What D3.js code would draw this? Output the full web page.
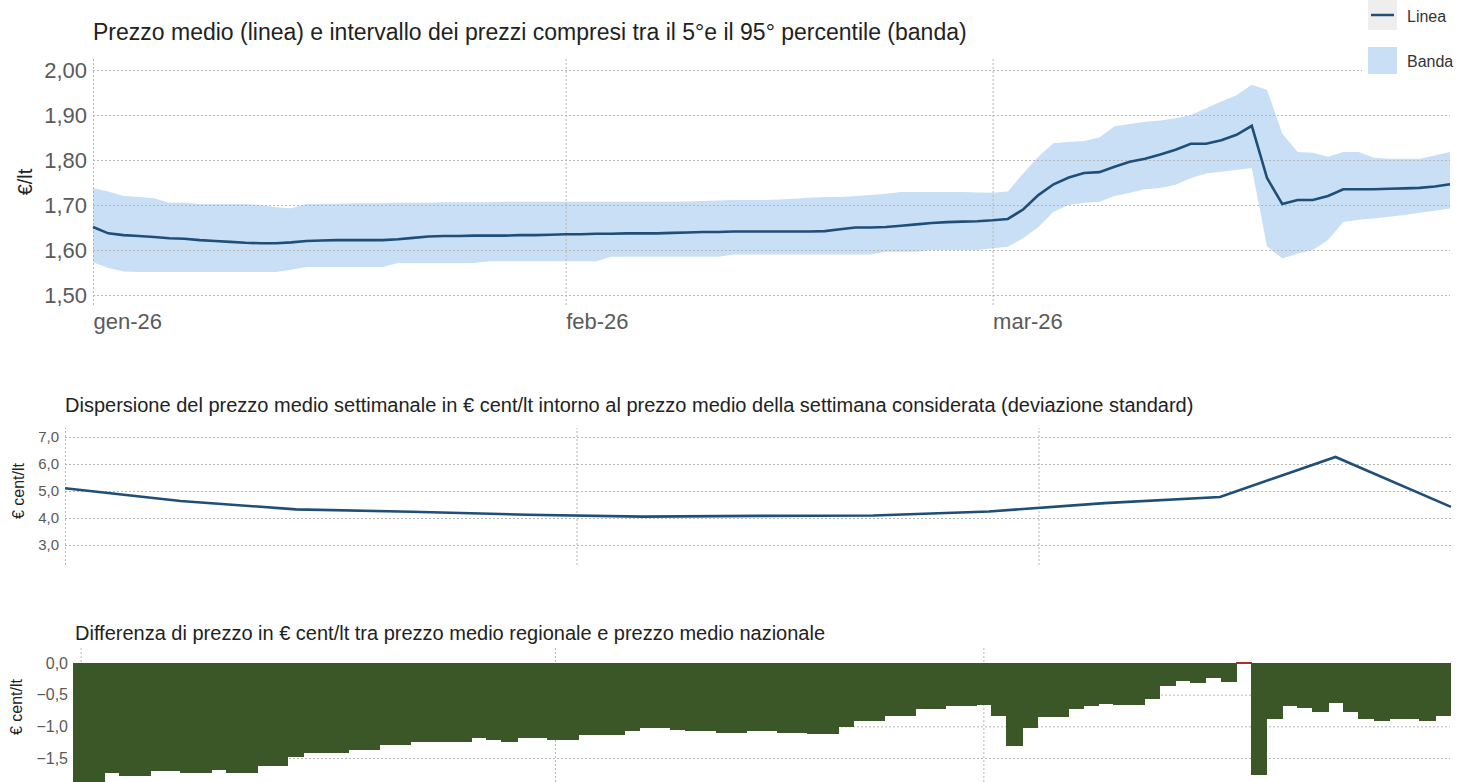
<!DOCTYPE html>
<html>
<head>
<meta charset="utf-8">
<script src="https://cdn.jsdelivr.net/npm/d3@7"></script>
<style>
  body { margin: 0; background: #fff; }
  svg { display: block; font-family: "Liberation Sans", Arial, sans-serif; }
  .grid line { stroke: #b5b5b5; stroke-dasharray: 2,2; }
  .grid .domain { display: none; }
  .tick-lbl text { fill: #5a5a5a; }
  .tick-lbl .domain, .tick-lbl line { display: none; }
</style>
</head>
<body>
<svg id="chart" width="1457" height="782"></svg>
<script>
// data
const monthLabels = ["gen-26", "feb-26", "mar-26"];
const monthStarts = ["2026-01-01", "2026-02-01", "2026-03-01"];

// top: daily average price and 5th-95th percentile band, 1 Jan - 31 Mar
const avgPrice = [
  1.651, 1.637, 1.633, 1.631, 1.629, 1.626, 1.625, 1.622, 1.620, 1.618,
  1.616, 1.615, 1.615, 1.617, 1.620, 1.621, 1.622, 1.622, 1.622, 1.622,
  1.624, 1.627, 1.630, 1.631, 1.631, 1.632, 1.632, 1.632, 1.633, 1.633,
  1.634, 1.635, 1.635, 1.636, 1.636, 1.637, 1.637, 1.637, 1.638, 1.639,
  1.640, 1.640, 1.641, 1.641, 1.641, 1.641, 1.641, 1.641, 1.642, 1.646,
  1.650, 1.650, 1.651, 1.654, 1.657, 1.660, 1.662, 1.663, 1.664, 1.666,
  1.669, 1.690, 1.722, 1.746, 1.761, 1.771, 1.773, 1.785, 1.796, 1.803,
  1.812, 1.823, 1.836, 1.836, 1.844, 1.856, 1.876, 1.760, 1.702, 1.711,
  1.711, 1.720, 1.735, 1.735, 1.735, 1.736, 1.737, 1.738, 1.741, 1.746
];
const bandHigh = [
  1.738, 1.730, 1.720, 1.718, 1.715, 1.705, 1.705, 1.702, 1.702, 1.702,
  1.702, 1.700, 1.695, 1.693, 1.702, 1.703, 1.703, 1.704, 1.704, 1.704,
  1.705, 1.705, 1.705, 1.706, 1.706, 1.706, 1.706, 1.707, 1.707, 1.707,
  1.707, 1.707, 1.707, 1.707, 1.707, 1.707, 1.707, 1.707, 1.707, 1.708,
  1.709, 1.710, 1.711, 1.711, 1.711, 1.712, 1.714, 1.716, 1.718, 1.718,
  1.720, 1.722, 1.725, 1.729, 1.729, 1.729, 1.729, 1.729, 1.728, 1.727,
  1.730, 1.770, 1.807, 1.838, 1.840, 1.842, 1.850, 1.875, 1.880, 1.885,
  1.888, 1.893, 1.900, 1.915, 1.930, 1.944, 1.967, 1.956, 1.859, 1.818,
  1.816, 1.807, 1.818, 1.818, 1.805, 1.803, 1.803, 1.803, 1.810, 1.818
];
const bandLow = [
  1.573, 1.560, 1.552, 1.551, 1.551, 1.551, 1.551, 1.551, 1.551, 1.551,
  1.551, 1.551, 1.551, 1.556, 1.562, 1.562, 1.562, 1.562, 1.562, 1.562,
  1.571, 1.571, 1.571, 1.571, 1.571, 1.571, 1.575, 1.575, 1.575, 1.575,
  1.575, 1.575, 1.575, 1.575, 1.585, 1.585, 1.585, 1.585, 1.585, 1.585,
  1.585, 1.585, 1.590, 1.590, 1.590, 1.590, 1.590, 1.590, 1.590, 1.590,
  1.590, 1.590, 1.596, 1.596, 1.596, 1.600, 1.600, 1.600, 1.600, 1.604,
  1.607, 1.626, 1.651, 1.685, 1.700, 1.705, 1.707, 1.720, 1.727, 1.735,
  1.738, 1.745, 1.760, 1.770, 1.774, 1.778, 1.782, 1.608, 1.581, 1.592,
  1.600, 1.622, 1.662, 1.667, 1.670, 1.674, 1.678, 1.683, 1.687, 1.692
];
const priceTicks = [1.5, 1.6, 1.7, 1.8, 1.9, 2.0];

// middle: weekly standard deviation (euro cent/lt)
const weekDates = [
  "2026-01-01", "2026-01-08", "2026-01-15", "2026-01-22", "2026-01-29",
  "2026-02-05", "2026-02-12", "2026-02-19", "2026-02-26", "2026-03-05",
  "2026-03-12", "2026-03-19", "2026-03-26"
];
const stdDev = [5.10, 4.63, 4.32, 4.23, 4.12, 4.05, 4.08, 4.09, 4.24, 4.55, 4.78, 6.26, 4.41];
const devTicks = [3, 4, 5, 6, 7];

// bottom: regional minus national average (euro cent/lt), daily
const regionalDiff = [
  -1.88, -1.88, -1.73, -1.79, -1.79, -1.71, -1.71, -1.74, -1.74, -1.69,
  -1.73, -1.73, -1.63, -1.63, -1.49, -1.42, -1.42, -1.42, -1.37, -1.37,
  -1.30, -1.30, -1.24, -1.24, -1.24, -1.24, -1.19, -1.21, -1.25, -1.19,
  -1.19, -1.21, -1.21, -1.14, -1.13, -1.13, -1.07, -1.03, -1.03, -1.05,
  -1.07, -1.07, -1.11, -1.11, -1.07, -1.07, -1.10, -1.10, -1.12, -1.12,
  -1.01, -0.91, -0.91, -0.83, -0.83, -0.72, -0.72, -0.68, -0.68, -0.67,
  -0.84, -1.31, -1.02, -0.85, -0.85, -0.72, -0.68, -0.64, -0.67, -0.67,
  -0.57, -0.37, -0.29, -0.32, -0.24, -0.30, 0.02, -1.77, -0.89, -0.68,
  -0.71, -0.77, -0.63, -0.77, -0.89, -0.92, -0.89, -0.89, -0.92, -0.84
];
const diffTicks = [0, -0.5, -1, -1.5];

const parse = d3.utcParse("%Y-%m-%d");
const days = d3.utcDays(parse("2026-01-01"), parse("2026-04-01"));
const months = monthStarts.map(parse);
const it = d3.formatLocale({decimal: ",", thousands: ".", grouping: [3], currency: ["€", ""]});

const lineColor = "#1f4e79";
const bandColor = "#c9dff5";
const svg = d3.select("#chart");

// ---------- top panel ----------
const x1 = d3.scaleUtc().domain([days[0], days[days.length - 1]]).range([93, 1450]);
const y1 = d3.scaleLinear().domain([1.5, 2.0]).range([295, 70]);
const gTop = svg.append("g");

gTop.append("text")
  .attr("x", 93).attr("y", 40)
  .attr("font-size", 23).attr("fill", "#222")
  .text("Prezzo medio (linea) e intervallo dei prezzi compresi tra il 5°e il 95° percentile (banda)");

const band = days.map((d, i) => ({d, lo: bandLow[i], hi: bandHigh[i], v: avgPrice[i]}));

gTop.append("path")
  .datum(band)
  .attr("fill", bandColor)
  .attr("d", d3.area().x(d => x1(d.d)).y0(d => y1(d.lo)).y1(d => y1(d.hi)));

gTop.append("g").attr("class", "grid")
  .attr("transform", "translate(93,0)")
  .call(d3.axisLeft(y1).tickValues(priceTicks).tickSize(-1357).tickFormat(""));

gTop.append("g").attr("class", "grid")
  .attr("transform", "translate(0,305)")
  .call(d3.axisBottom(x1).tickValues(months).tickSize(-247).tickFormat(""));

gTop.append("path")
  .datum(band)
  .attr("fill", "none")
  .attr("stroke", lineColor)
  .attr("stroke-width", 2.6)
  .attr("d", d3.line().x(d => x1(d.d)).y(d => y1(d.v)));

gTop.append("g").attr("class", "tick-lbl")
  .attr("transform", "translate(87,0)")
  .call(d3.axisLeft(y1).tickValues(priceTicks).tickSize(0).tickPadding(0).tickFormat(it.format(".2f")))
  .selectAll("text").attr("font-size", 22);

gTop.append("g").attr("class", "tick-lbl")
  .attr("transform", "translate(0,307)")
  .call(d3.axisBottom(x1).tickValues(months).tickSize(0).tickPadding(6).tickFormat((d, i) => monthLabels[i]))
  .selectAll("text").attr("font-size", 22).attr("text-anchor", "start");

gTop.append("text")
  .attr("transform", "translate(32,182) rotate(-90)")
  .attr("text-anchor", "middle")
  .attr("font-size", 20).attr("fill", "#222")
  .text("€/lt");

// legend
const leg = svg.append("g");
leg.append("rect").attr("x", 1362).attr("y", 0).attr("width", 95).attr("height", 80).attr("fill", "#fff");
leg.append("rect").attr("x", 1368).attr("y", 0).attr("width", 29).attr("height", 30).attr("fill", "#eeeeee");
leg.append("line").attr("x1", 1371).attr("x2", 1394).attr("y1", 15).attr("y2", 15)
  .attr("stroke", lineColor).attr("stroke-width", 2.5);
leg.append("rect").attr("x", 1368).attr("y", 47).attr("width", 29).attr("height", 27).attr("fill", bandColor);
leg.selectAll("text.lg")
  .data(["Linea", "Banda"])
  .join("text")
  .attr("class", "lg")
  .attr("x", 1407).attr("y", (d, i) => 22 + i * 45)
  .attr("font-size", 16).attr("fill", "#333")
  .text(d => d);

// ---------- middle panel ----------
const wk = weekDates.map(parse);
const x2 = d3.scaleUtc().domain([wk[0], wk[wk.length - 1]]).range([65, 1451]);
const y2 = d3.scaleLinear().domain([3, 7]).range([545, 437]);
const gMid = svg.append("g");

gMid.append("text")
  .attr("x", 65).attr("y", 412)
  .attr("font-size", 20).attr("fill", "#222")
  .text("Dispersione del prezzo medio settimanale in € cent/lt intorno al prezzo medio della settimana considerata (deviazione standard)");

gMid.append("g").attr("class", "grid")
  .attr("transform", "translate(65,0)")
  .call(d3.axisLeft(y2).tickValues(devTicks).tickSize(-1386).tickFormat(""));

gMid.append("g").attr("class", "grid")
  .attr("transform", "translate(0,565)")
  .call(d3.axisBottom(x2).tickValues([wk[0]].concat(months.slice(1))).tickSize(-137).tickFormat(""));

gMid.append("path")
  .datum(wk.map((d, i) => ({d, v: stdDev[i]})))
  .attr("fill", "none")
  .attr("stroke", lineColor)
  .attr("stroke-width", 2.6)
  .attr("d", d3.line().x(d => x2(d.d)).y(d => y2(d.v)));

gMid.append("g").attr("class", "tick-lbl")
  .attr("transform", "translate(59,0)")
  .call(d3.axisLeft(y2).tickValues(devTicks).tickSize(0).tickPadding(0).tickFormat(it.format(".1f")))
  .selectAll("text").attr("font-size", 15);

gMid.append("text")
  .attr("transform", "translate(24,491) rotate(-90)")
  .attr("text-anchor", "middle")
  .attr("font-size", 16).attr("fill", "#222")
  .text("€ cent/lt");

// ---------- bottom panel ----------
const x3 = d3.scaleBand().domain(days).range([73, 1450]).padding(0);
const y3 = d3.scaleLinear().domain([-1.5, 0]).range([758, 663]);
const gBot = svg.append("g");

gBot.append("text")
  .attr("x", 75).attr("y", 640)
  .attr("font-size", 20).attr("fill", "#222")
  .text("Differenza di prezzo in € cent/lt tra prezzo medio regionale e prezzo medio nazionale");

gBot.append("g").attr("class", "grid")
  .attr("transform", "translate(73,0)")
  .call(d3.axisLeft(y3).tickValues(diffTicks).tickSize(-1377).tickFormat(""));

const x3t = d3.scaleUtc().domain([days[0], days[days.length - 1]])
  .range([73 + x3.bandwidth() / 2, 1450 - x3.bandwidth() / 2]);
gBot.append("g").attr("class", "grid")
  .attr("transform", "translate(0,782)")
  .call(d3.axisBottom(x3t).tickValues(months).tickSize(-134).tickFormat(""));

gBot.selectAll("rect.bar")
  .data(days.map((d, i) => ({d, v: regionalDiff[i]})))
  .join("rect")
  .attr("class", "bar")
  .attr("shape-rendering", "crispEdges")
  .attr("x", d => x3(d.d))
  .attr("width", x3.bandwidth() + 1)
  .attr("y", d => y3(Math.max(0, d.v)))
  .attr("height", d => Math.max(2, Math.abs(y3(d.v) - y3(0))))
  .attr("fill", d => d.v >= 0 ? "#b22a2a" : "#3b5727");

gBot.append("g").attr("class", "tick-lbl")
  .attr("transform", "translate(68,0)")
  .call(d3.axisLeft(y3).tickValues(diffTicks).tickSize(0).tickPadding(0).tickFormat(it.format(".1f")))
  .selectAll("text").attr("font-size", 16);

gBot.append("text")
  .attr("transform", "translate(22,707) rotate(-90)")
  .attr("text-anchor", "middle")
  .attr("font-size", 16).attr("fill", "#222")
  .text("€ cent/lt");
</script>
</body>
</html>
